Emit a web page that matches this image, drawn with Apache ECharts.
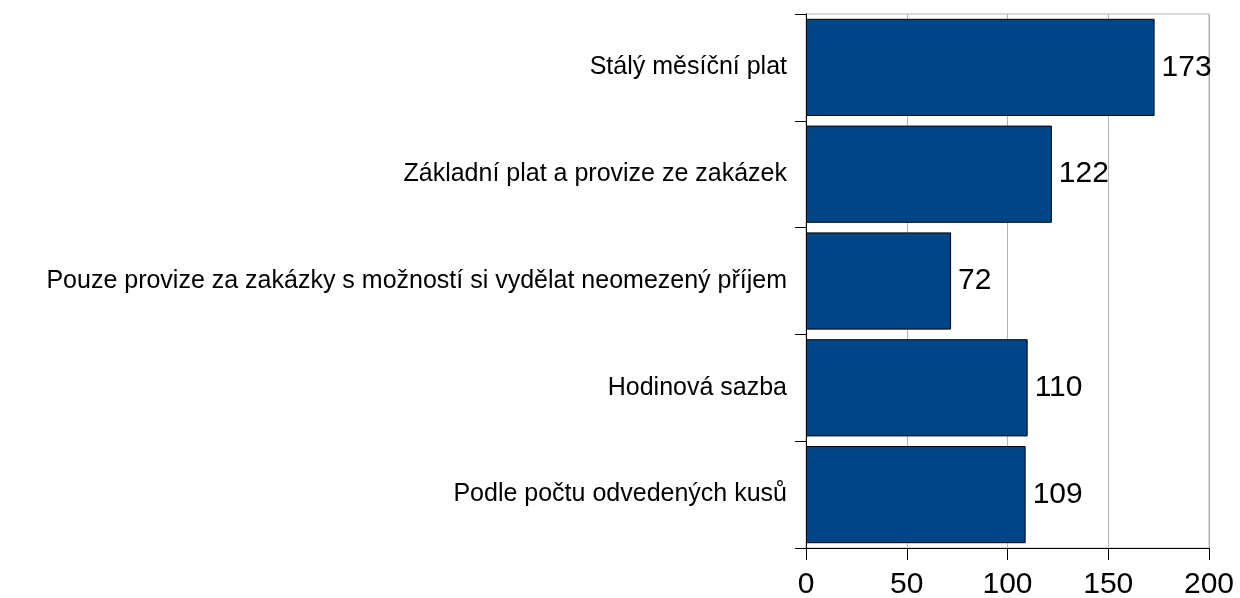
<!DOCTYPE html>
<html>
<head>
<meta charset="utf-8">
<script src="https://cdn.jsdelivr.net/npm/echarts@6/dist/echarts.min.js"></script>
<style>
html, body { margin: 0; padding: 0; background: #fff; }
#main { width: 1240px; height: 598px; }
</style>
</head>
<body>
<div id="main"></div>
<script>
var categories = ['Stálý měsíční plat', 'Základní plat a provize ze zakázek',
    'Pouze provize za zakázky s možností si vydělat neomezený příjem',
    'Hodinová sazba', 'Podle počtu odvedených kusů'];
var counts = [173, 122, 72, 110, 109];

var myChart = echarts.init(document.getElementById('main'));
var option = {
    animation: false,
    textStyle: { fontFamily: 'Liberation Sans' },
    grid: {
        left: 806, right: 31, top: 14, bottom: 50,
        outerBoundsMode: 'none',
        show: true, borderColor: '#b3b3b3', borderWidth: 1
    },
    xAxis: {
        type: 'value',
        min: 0, max: 200, interval: 50,
        axisLine: { show: true, lineStyle: { color: '#000' } },
        axisTick: { show: true, length: 12, lineStyle: { color: '#000' } },
        axisLabel: { color: '#000', fontSize: 30, margin: 22 },
        splitLine: { lineStyle: { color: '#b3b3b3' } }
    },
    yAxis: {
        type: 'category',
        inverse: true,
        data: categories,
        axisLine: { show: true, lineStyle: { color: '#000' } },
        axisTick: { show: true, length: 11, lineStyle: { color: '#000' } },
        axisLabel: { color: '#000', fontSize: 25, margin: 19 },
        splitLine: { show: false }
    },
    series: [{
        type: 'bar',
        data: counts,
        barCategoryGap: '9%',
        itemStyle: { color: '#004586', borderColor: '#000', borderWidth: 1 },
        label: {
            show: true, position: 'right', distance: 7,
            color: '#000', fontSize: 30
        }
    }]
};
myChart.setOption(option);
</script>
</body>
</html>
